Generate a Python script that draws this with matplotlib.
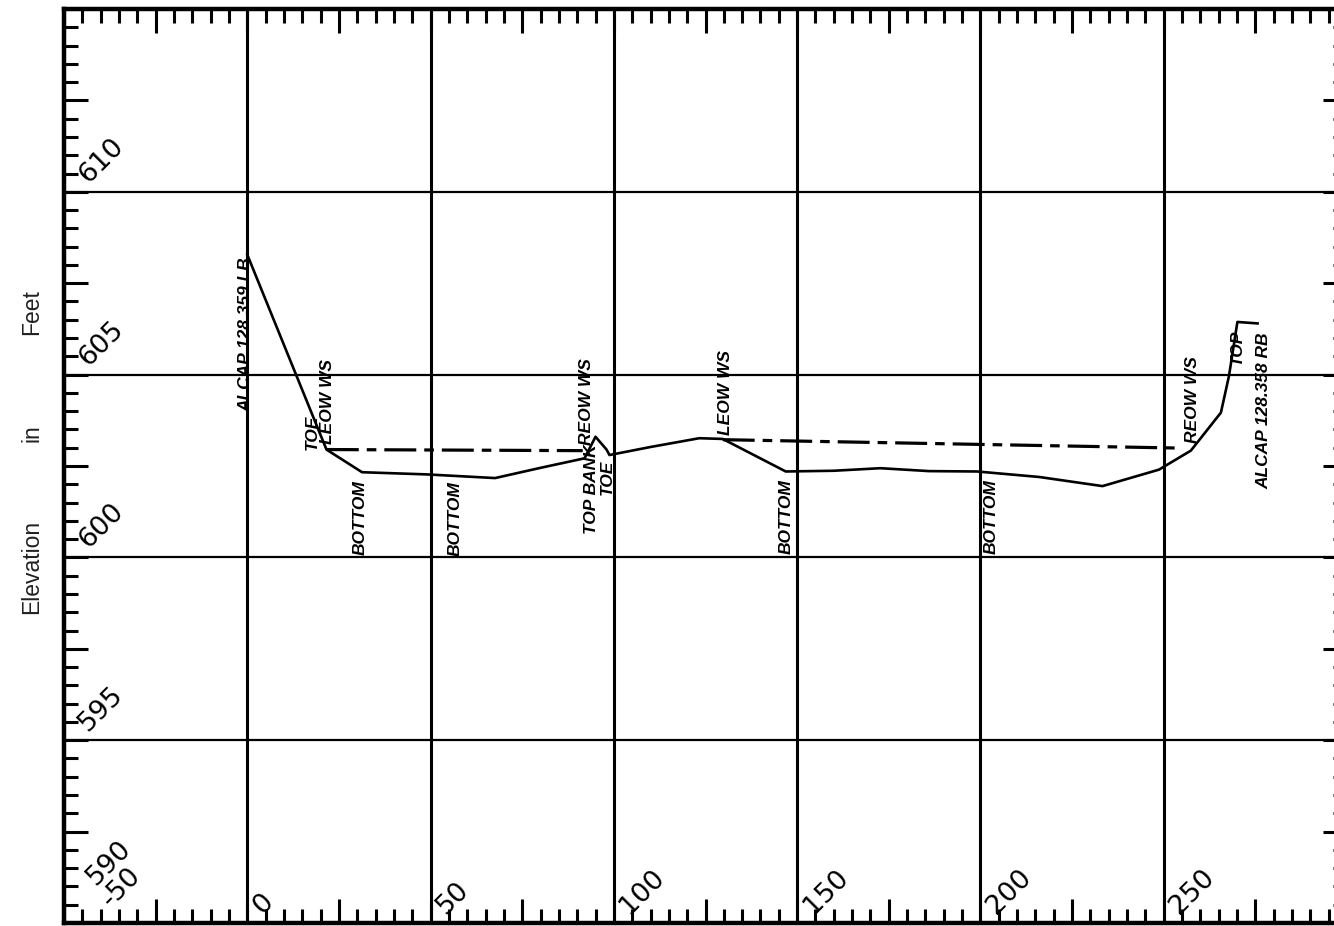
import matplotlib
matplotlib.use("Agg")
import matplotlib.pyplot as plt
from matplotlib.ticker import MultipleLocator

# ---------------- data ----------------
station = [0.0, 21.6, 31.3, 49.0, 67.6, 80.0, 92.0, 95.0, 98.0, 98.8,
           110.0, 123.3, 129.7, 146.9, 160.0, 172.7, 186.0, 199.1, 216.0,
           233.3, 248.7, 257.4, 265.6, 267.8, 270.1, 275.6]
elevation = [608.28, 602.95, 602.33, 602.27, 602.17, 602.45, 602.71, 603.30, 602.95, 602.80,
             603.02, 603.26, 603.24, 602.35, 602.37, 602.44, 602.36, 602.35, 602.20,
             601.95, 602.40, 602.92, 603.96, 604.96, 606.44, 606.40]

ws1_station = [21.7, 91.5]
ws1_elev = [602.95, 602.92]
ws2_station = [129.7, 254.5]
ws2_elev = [603.22, 602.99]

x_tick_values = [-50, 0, 50, 100, 150, 200, 250]
y_tick_values = [590, 595, 600, 605, 610]

point_labels = ["ALCAP 128.359 LB", "TOE", "LEOW WS", "BOTTOM", "BOTTOM", "REOW WS",
                "TOP BANK", "TOE", "LEOW WS", "BOTTOM", "BOTTOM", "REOW WS", "TOP",
                "ALCAP 128.358 RB"]
point_label_x = [-0.5, 17.6, 22.0, 30.8, 56.8, 92.5, 94.0, 98.3, 130.4, 147.1, 202.8,
                 257.9, 270.0, 277.3]
point_label_y = [606.1, 603.43, 604.26, 601.1, 601.06, 604.26, 601.87, 602.2, 604.51,
                 601.11, 601.11, 604.33, 605.75, 604.01]

# ---------------- figure ----------------
W, H = 1334, 926
fig = plt.figure(figsize=(W / 100, H / 100), dpi=100)
ax = fig.add_axes([64 / W, 3 / H, 1283 / W, 914 / H])
ax.set_xlim(-50, 300)
ax.set_ylim(590, 615)

for s in ax.spines.values():
    s.set_linewidth(3.2)
    s.set_color("black")

# grid lines
for xv in x_tick_values[1:]:
    ax.axvline(xv, color="black", lw=2.2, zorder=1)
for yv in y_tick_values[1:]:
    ax.axhline(yv, color="black", lw=1.6, zorder=1)

# ticks
ax.xaxis.set_major_locator(MultipleLocator(25))
ax.xaxis.set_minor_locator(MultipleLocator(5))
ax.yaxis.set_major_locator(MultipleLocator(2.5))
ax.yaxis.set_minor_locator(MultipleLocator(0.5))
ax.tick_params(which="both", direction="in", top=True, bottom=True, left=True, right=True,
               labelbottom=False, labelleft=False, color="black")
ax.tick_params(which="major", length=17, width=2.2)
ax.tick_params(which="minor", length=10, width=2.2)

# profile
ax.plot(station, elevation, color="black", lw=1.9, zorder=3, solid_joinstyle="round")
ax.plot(ws1_station, ws1_elev, color="black", lw=2.3, ls=(0, (10, 2.5, 3, 2.5)), zorder=3)
ax.plot(ws2_station, ws2_elev, color="black", lw=2.3, ls=(0, (10, 2.5, 3, 2.5)), zorder=3)

# tick labels drawn inside, rotated
tick_font = dict(family="DejaVu Sans", fontsize=19.5, rotation=45, rotation_mode="anchor",
                 ha="left", va="baseline", color="black")
for yv in y_tick_values:
    yy = yv + 0.22 if yv > 590 else yv + 1.0
    xx = -43.4 if yv > 590 else -41.4
    ax.text(xx, yy, f"{yv}", **tick_font)
for xv in x_tick_values:
    xx = xv + 4.2 if xv > -50 else -37.4
    ax.text(xx, 590.22 if xv > -50 else 590.4, f"{xv}", **tick_font)

# point labels
lab_font = dict(family=["Liberation Sans Narrow", "Liberation Sans"], fontsize=12.5,
                fontweight="heavy", fontstyle="italic", rotation=90,
                ha="center", va="center", color="black", zorder=4)
for t, px, py in zip(point_labels, point_label_x, point_label_y):
    ax.text(px, py, t, **lab_font)

# axis title
yl = dict(family="Liberation Sans", fontsize=16.5, rotation=90, ha="center", va="center",
          color="#222222")
fig.text(32 / W, 1 - 312 / H, "Feet", **yl)
fig.text(32 / W, 1 - 433 / H, "in", **yl)
fig.text(32 / W, 1 - 567 / H, "Elevation", **yl)

fig.savefig("out.png", dpi=100)
